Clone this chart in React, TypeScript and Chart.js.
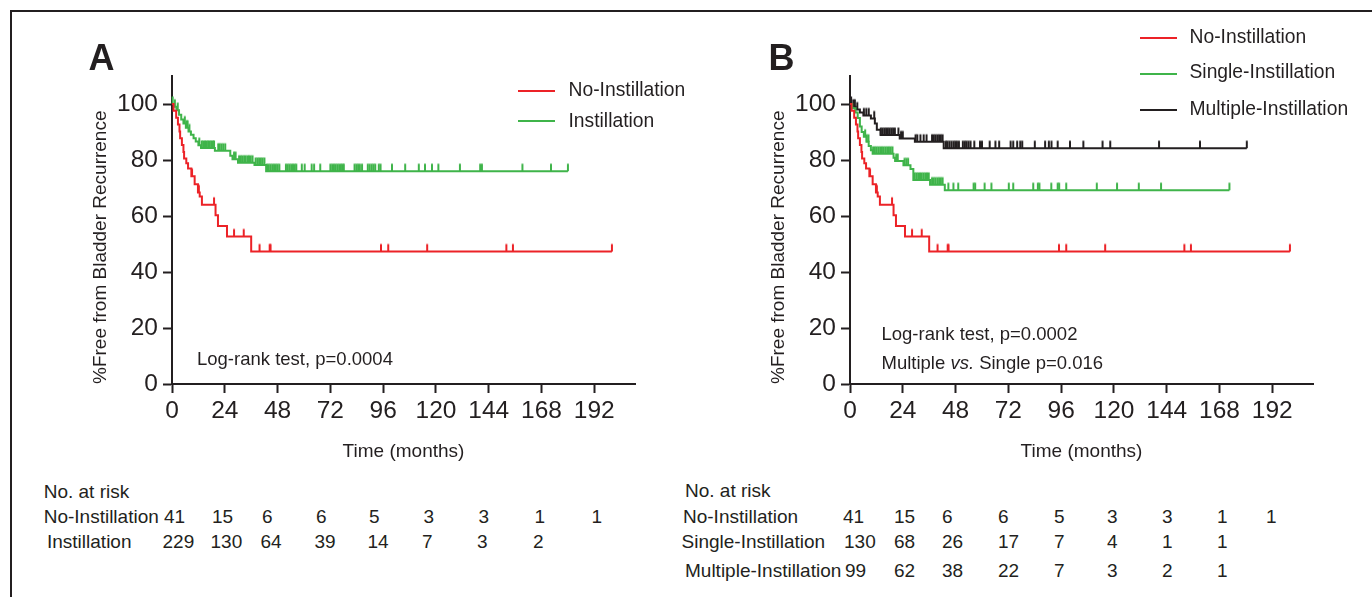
import React, { useEffect, useRef } from 'react';
import { Chart, registerables } from 'chart.js';

Chart.register(...registerables);

const FONT = "'Liberation Sans', Arial, Helvetica, sans-serif";
const INK = '#231f20';
const RED = '#ec2227';
const GREEN = '#3fb44a';
const BLACK = '#231f20';

// ---------- axes ----------
const X_TICKS = [0, 24, 48, 72, 96, 120, 144, 168, 192];
const Y_TICKS = [0, 20, 40, 60, 80, 100];
const X_MAX = 210.5;
const Y_MAX = 110;

// ---------- No-Instillation (both panels) ----------
const NO_INST_TIMES = [0.7, 1.9, 2.7, 3.4, 3.7, 4.5, 5.2, 5.5, 6.5, 7.3, 8.8, 10.3, 11.8, 12.6, 13.6, 19.8, 20.9, 25.0, 36.0];
const NO_INST_SURV = [97.6, 95.1, 92.7, 90.2, 87.8, 85.4, 82.9, 80.5, 78.8, 77.0, 74.2, 71.3, 68.4, 67.0, 64.0, 60.3, 56.4, 52.7, 47.3];
const NO_INST_CENSOR = [9.1, 12.2, 19.1, 28.2, 32.6, 39.8, 44.4, 44.8, 95, 98.3, 116, 152, 155, 200];
const NO_INST_END = 200;

// ---------- Instillation (panel A) ----------
const INST_TIMES = [1.0, 2.0, 3.2, 4.2, 5.2, 6.3, 7.5, 8.6, 9.8, 10.8, 12.0, 13.2, 19.5, 26.5, 27.5, 30.0, 37.5, 42.8];
const INST_SURV = [99.0, 97.8, 96.2, 94.5, 93.0, 91.5, 90.2, 89.0, 87.8, 86.6, 85.3, 84.3, 83.3, 81.5, 80.3, 79.0, 78.2, 76.0];
const INST_CENSOR = [
  0.3, 1.3, 2.6, 5.8, 6.6, 7.1, 7.9, 12.4, 13.5, 14.2, 15.0, 15.7, 16.4, 17.1, 17.8, 18.5, 19.1,
  21.0, 21.7, 22.5, 23.3, 24.2, 28.2, 28.9, 30.5, 31.3, 32.0, 32.8, 33.5, 34.3, 35.0, 35.8, 36.6,
  38.0, 38.8, 39.6, 40.4, 41.2, 42.0, 43.2, 44.0, 44.8, 45.6, 46.4, 47.2, 48.0, 48.8, 51.8, 52.6,
  53.4, 54.2, 55.0, 55.8, 56.5, 59.0, 60.3, 63.5, 64.6, 67.4, 72.0, 72.8, 73.6, 74.4, 75.2, 76.0,
  76.8, 77.5, 78.1, 83.0, 83.8, 84.6, 85.4, 86.4, 89.0, 89.9, 90.8, 91.6, 92.4, 94.0, 94.8, 100.0,
  106.0, 112.2, 115.0, 118.2, 121.1, 130.9, 140.1, 140.9, 159.3, 172.3, 180.0,
];
const INST_END = 180;

// ---------- Single-Instillation (panel B) ----------
const SINGLE_TIMES = [1.0, 2.5, 3.5, 4.5, 5.3, 6.3, 7.5, 8.5, 9.5, 10.3, 19.8, 20.5, 24.3, 27.5, 28.8, 36.4, 43.1];
const SINGLE_SURV = [98.5, 97.0, 95.0, 92.0, 90.0, 88.3, 86.5, 85.0, 83.5, 82.2, 80.8, 79.6, 78.1, 76.8, 72.9, 71.2, 69.2];
const SINGLE_CENSOR = [
  6.9, 7.6, 8.4, 10.5, 11.3, 12.1, 12.9, 13.7, 14.5, 15.3, 16.1, 16.9, 17.7, 18.5, 19.3, 21.0, 21.7,
  24.8, 25.6, 26.4, 29.4, 30.2, 31.0, 31.8, 32.6, 33.4, 34.2, 35.0, 35.8, 37.3, 38.1, 38.9, 39.7,
  40.5, 41.3, 42.1, 44.7, 47.0, 49.2, 56.2, 56.9, 61.2, 64.3, 72.2, 74.2, 83.3, 85.4, 86.1, 91.5,
  94.4, 95.1, 98.3, 112.2, 121.4, 131.3, 141.4, 172.5,
];
const SINGLE_END = 172.5;

// ---------- Multiple-Instillation (panel B) ----------
const MULTI_TIMES = [1.0, 2.6, 4.5, 6.1, 9.5, 11.3, 12.2, 13.9, 22.6, 29.5, 42.6];
const MULTI_SURV = [99.0, 98.0, 97.0, 95.9, 94.8, 93.0, 90.8, 88.9, 87.7, 86.5, 84.2];
const MULTI_CENSOR = [
  0.5, 1.5, 2.2, 3.3, 6.3, 7.4, 8.5, 11.0, 14.0, 14.8, 15.6, 16.4, 17.2, 18.0, 18.8, 19.6, 20.4,
  22.0, 23.2, 24.0, 29.8, 30.6, 32.0, 33.5, 34.8, 37.3, 38.1, 38.9, 39.7, 40.5, 41.3, 42.1, 43.6,
  44.3, 45.2, 46.1, 47.0, 47.8, 48.6, 49.5, 51.3, 52.2, 53.0, 53.9, 54.8, 56.5, 59.1, 60.0, 63.5,
  66.1, 67.8, 73.0, 74.2, 76.0, 77.4, 78.3, 84.0, 88.7, 90.4, 91.6, 94.4, 100.0, 106.1, 114.8,
  118.3, 140.5, 159.1, 180.4,
];
const MULTI_END = 180.4;

// ---------- numbers at risk ----------
const RISK_A_LABELS = ['No-Instillation', 'Instillation'];
const RISK_A_NO_INST = ['41', '15', '6', '6', '5', '3', '3', '1', '1'];
const RISK_A_INST = ['229', '130', '64', '39', '14', '7', '3', '2'];
const RISK_B_LABELS = ['No-Instillation', 'Single-Instillation', 'Multiple-Instillation'];
const RISK_B_NO_INST = ['41', '15', '6', '6', '5', '3', '3', '1', '1'];
const RISK_B_SINGLE = ['130', '68', '26', '17', '7', '4', '1', '1'];
const RISK_B_MULTI = ['99', '62', '38', '22', '7', '3', '2', '1'];

// ---------- layout (not data) ----------
const COLS_A = [164, 212, 262, 316, 369, 423.5, 478.5, 534.5, 591.5];
const COLS_B = [843, 894, 942, 998, 1054, 1107, 1162, 1217, 1266];

type Curve = {
  color: string;
  times: number[];
  surv: number[];
  censor: number[];
  end: number;
};

function survAt(times: number[], surv: number[], t: number): number {
  let s = 100;
  for (let i = 0; i < times.length; i++) {
    if (times[i] <= t) s = surv[i];
    else break;
  }
  return s;
}

function makeTickImage(color: string): HTMLCanvasElement {
  const c = document.createElement('canvas');
  c.width = 4;
  c.height = 18;
  const g = c.getContext('2d')!;
  g.fillStyle = color;
  g.fillRect(1, 1.5, 2, 7.5);
  return c;
}

type PanelProps = {
  left: number;
  width: number;
  height: number;
  padLeft: number;
  padRight: number;
  curves: Curve[];
};

function KMPanel({ left, width, height, padLeft, padRight, curves }: PanelProps) {
  const ref = useRef<HTMLCanvasElement | null>(null);
  useEffect(() => {
    if (!ref.current) return;
    const datasets: any[] = [];
    curves.forEach((c) => {
      datasets.push({
        type: 'line',
        data: [
          { x: 0, y: 100 },
          ...c.times.map((t, i) => ({ x: t, y: c.surv[i] })),
          { x: c.end, y: c.surv[c.surv.length - 1] },
        ],
        borderColor: c.color,
        borderWidth: 2,
        stepped: 'before',
        pointRadius: 0,
        fill: false,
        clip: false,
      });
      datasets.push({
        type: 'line',
        showLine: false,
        data: c.censor.map((t) => ({ x: t, y: survAt(c.times, c.surv, t) })),
        pointStyle: makeTickImage(c.color),
        pointRadius: 3,
        clip: false,
      });
    });
    const tickFont = { family: FONT, size: 24.5 };
    const chart = new Chart(ref.current, {
      type: 'line',
      data: { datasets },
      options: {
        responsive: false,
        maintainAspectRatio: false,
        animation: false,
        events: [],
        layout: { padding: { left: padLeft, right: padRight, top: 76, bottom: 16 } },
        plugins: { legend: { display: false }, tooltip: { enabled: false } },
        scales: {
          x: {
            type: 'linear',
            min: 0,
            max: X_MAX,
            afterBuildTicks: (s: any) => {
              s.ticks = X_TICKS.map((v) => ({ value: v }));
            },
            afterFit: (s: any) => {
              s.height = 80;
            },
            grid: { drawOnChartArea: false, drawTicks: true, tickLength: 9, tickWidth: 2, tickColor: INK },
            border: { display: true, color: INK, width: 2 },
            ticks: { color: INK, font: tickFont, padding: 4, maxRotation: 0, autoSkip: false },
            title: {
              display: true,
              text: 'Time (months)',
              color: INK,
              font: { family: FONT, size: 19 },
              padding: { top: 0, bottom: 1 },
            },
          },
          y: {
            type: 'linear',
            min: 0,
            max: Y_MAX,
            afterBuildTicks: (s: any) => {
              s.ticks = Y_TICKS.map((v) => ({ value: v }));
            },
            afterFit: (s: any) => {
              s.width = 90;
            },
            grid: { drawOnChartArea: false, drawTicks: true, tickLength: 9, tickWidth: 2, tickColor: INK },
            border: { display: true, color: INK, width: 2 },
            ticks: { color: INK, font: tickFont, padding: 5, autoSkip: false },
            title: {
              display: true,
              text: '%Free from Bladder Recurrence',
              align: 'start',
              color: INK,
              font: { family: FONT, size: 19 },
              padding: { top: 7.5, bottom: 0 },
            },
          },
        },
      } as any,
    });
    return () => chart.destroy();
  }, []);
  return (
    <canvas
      ref={ref}
      width={width}
      height={height}
      style={{ position: 'absolute', left, top: 0, width, height }}
    />
  );
}

function Txt({ x, cy, size = 19, children, bold = false }: any) {
  return (
    <div
      style={{
        position: 'absolute',
        left: x,
        top: cy - size / 2,
        fontSize: size,
        lineHeight: size + 'px',
        whiteSpace: 'nowrap',
        fontFamily: FONT,
        fontWeight: bold ? 700 : 400,
        color: INK,
      }}
    >
      {children}
    </div>
  );
}

function LegendLine({ x1, x2, cy, color }: any) {
  return (
    <div
      style={{ position: 'absolute', left: x1, top: cy - 1, width: x2 - x1, height: 2, background: color }}
    />
  );
}

export default function App() {
  const curvesA: Curve[] = [
    { color: RED, times: NO_INST_TIMES, surv: NO_INST_SURV, censor: NO_INST_CENSOR, end: NO_INST_END },
    { color: GREEN, times: INST_TIMES, surv: INST_SURV, censor: INST_CENSOR, end: INST_END },
  ];
  const curvesB: Curve[] = [
    { color: RED, times: NO_INST_TIMES, surv: NO_INST_SURV, censor: NO_INST_CENSOR, end: NO_INST_END },
    { color: GREEN, times: SINGLE_TIMES, surv: SINGLE_SURV, censor: SINGLE_CENSOR, end: SINGLE_END },
    { color: BLACK, times: MULTI_TIMES, surv: MULTI_SURV, censor: MULTI_CENSOR, end: MULTI_END },
  ];
  return (
    <div
      style={{
        position: 'fixed',
        left: 0,
        top: 0,
        width: 1372,
        height: 597,
        background: '#fff',
        overflow: 'hidden',
      }}
    >
      <div
        style={{
          position: 'absolute',
          left: 10,
          top: 9.5,
          width: 1400,
          height: 700,
          borderTop: `2px solid ${INK}`,
          borderLeft: `2px solid ${INK}`,
        }}
      />
      <KMPanel left={0} width={680} height={480} padLeft={82} padRight={45} curves={curvesA} />
      <KMPanel left={680} width={692} height={480} padLeft={80} padRight={59} curves={curvesB} />

      {/* panel letters */}
      <Txt x={88.5} cy={58} size={36} bold>A</Txt>
      <Txt x={768.5} cy={58} size={36} bold>B</Txt>

      {/* legend A */}
      <LegendLine x1={517.5} x2={555} cy={90.5} color={RED} />
      <LegendLine x1={517.5} x2={555} cy={121} color={GREEN} />
      <Txt x={568.5} cy={89.5} size={19.3}>No-Instillation</Txt>
      <Txt x={568.5} cy={120.5} size={19.3}>Instillation</Txt>

      {/* legend B */}
      <LegendLine x1={1140} x2={1177} cy={37.5} color={RED} />
      <LegendLine x1={1140} x2={1177} cy={73.5} color={GREEN} />
      <LegendLine x1={1140} x2={1177} cy={110} color={BLACK} />
      <Txt x={1189.5} cy={36.5} size={19.3}>No-Instillation</Txt>
      <Txt x={1189.5} cy={72} size={19.3}>Single-Instillation</Txt>
      <Txt x={1189.5} cy={108.5} size={19.3}>Multiple-Instillation</Txt>

      {/* annotations */}
      <Txt x={197} cy={359} size={18.5}>Log-rank test, p=0.0004</Txt>
      <Txt x={881.5} cy={334.5} size={18.5}>Log-rank test, p=0.0002</Txt>
      <Txt x={881.5} cy={363.5} size={18.5}>
        Multiple <i>vs.</i> Single p=0.016
      </Txt>

      {/* risk table A */}
      <Txt x={43.7} cy={491.5}>No. at risk</Txt>
      <Txt x={43.7} cy={516.5}>{RISK_A_LABELS[0]}</Txt>
      <Txt x={47} cy={541.7}>{RISK_A_LABELS[1]}</Txt>
      {RISK_A_NO_INST.map((v, i) => (
        <Txt key={'an' + i} x={COLS_A[i]} cy={516.5}>{v}</Txt>
      ))}
      {RISK_A_INST.map((v, i) => (
        <Txt key={'ai' + i} x={COLS_A[i] - 1.5} cy={541.7}>{v}</Txt>
      ))}

      {/* risk table B */}
      <Txt x={685} cy={490.7}>No. at risk</Txt>
      <Txt x={683} cy={516}>{RISK_B_LABELS[0]}</Txt>
      <Txt x={681.5} cy={541.7}>{RISK_B_LABELS[1]}</Txt>
      <Txt x={685} cy={570.3}>{RISK_B_LABELS[2]}</Txt>
      {RISK_B_NO_INST.map((v, i) => (
        <Txt key={'bn' + i} x={COLS_B[i]} cy={516}>{v}</Txt>
      ))}
      {RISK_B_SINGLE.map((v, i) => (
        <Txt key={'bs' + i} x={COLS_B[i] + (i === 0 ? 1 : 0)} cy={541.7}>{v}</Txt>
      ))}
      {RISK_B_MULTI.map((v, i) => (
        <Txt key={'bm' + i} x={COLS_B[i] + (i === 0 ? 2 : 0)} cy={570.3}>{v}</Txt>
      ))}
    </div>
  );
}
